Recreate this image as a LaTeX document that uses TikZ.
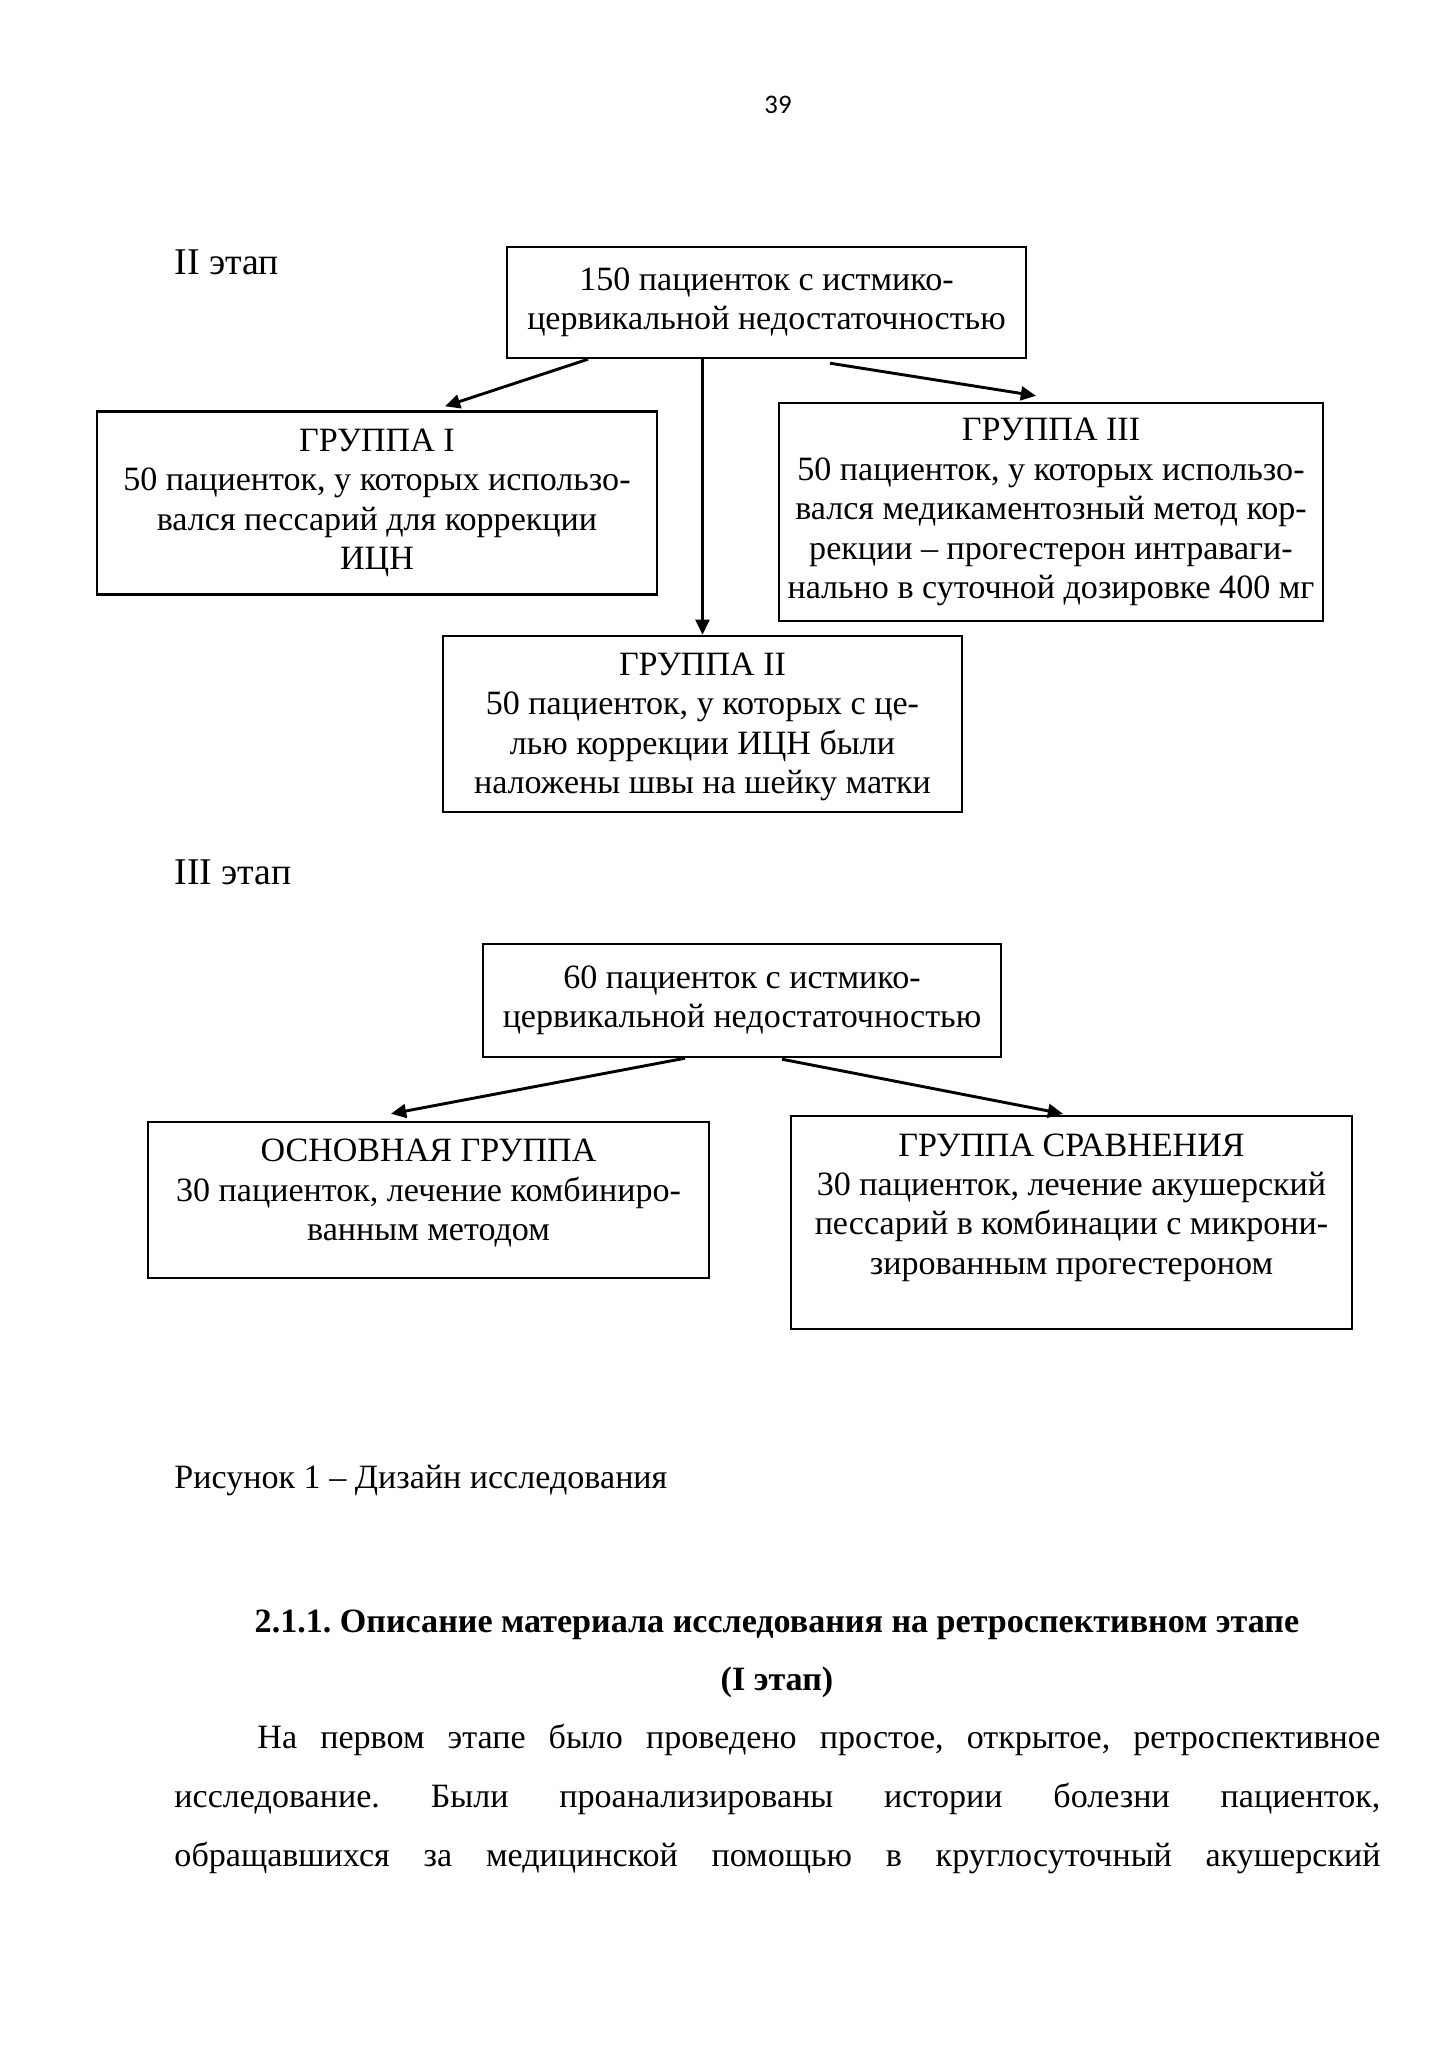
\documentclass[tikz,border=0pt]{standalone}
\usepackage{fontspec}
\setmainfont{Liberation Serif}
\newfontfamily\numfont{Carlito}
\usetikzlibrary{arrows.meta}
\newdimen\pxu
\pxu=0.14493mm
\frenchspacing

\begin{document}
\begin{tikzpicture}[x=0.14493mm, y=-0.14493mm,
		box/.style = {draw, line width=1pt, align=center, inner sep=0pt, font=\fontsize{14bp}{16.2bp}\selectfont},
		txt/.style = {inner sep=0pt, font=\fontsize{14bp}{16.2bp}\selectfont},
		stage/.style = {inner sep=0pt, anchor=base west, font=\fontsize{15.5bp}{18bp}\selectfont},
		arr/.style = {line width=1.2pt, -{Triangle[length=2.2mm, width=2mm]}}]
			\path[use as bounding box, fill=white] (0, 0) rectangle (1449, 2050);
			\node (page) at (778, 105) [inner sep=0pt, font=\numfont\fontsize{11bp}{13bp}\selectfont] {39};
			\node (st2)  at (174, 274) [stage] {II этап};
			\node (t150) at (766.5, 302.5) [box, minimum width=519\pxu, minimum height=111\pxu] {150 пациенток с истмико-\\цервикальной недостаточностью};
			\node (g1)   at (377, 503) [box, minimum width=560\pxu, minimum height=183\pxu] {ГРУППА I\\50 пациенток, у которых использо-\\вался пессарий для коррекции\\ИЦН};
			\node (g3)   at (1051, 512) [box, minimum width=544\pxu, minimum height=218\pxu] {ГРУППА III\\50 пациенток, у которых использо-\\вался медикаментозный метод кор-\\рекции – прогестерон интраваги-\\нально в суточной дозировке 400 мг};
			\node (g2)   at (702.5, 724) [box, minimum width=519\pxu, minimum height=176\pxu] {};
			\node (g2text) at ([yshift=-3\pxu]g2.center) [txt, align=center] {ГРУППА II\\50 пациенток, у которых с це-\\лью коррекции ИЦН были\\наложены швы на шейку матки};
			\draw [arr] ([xshift=-178.5\pxu]t150.south) -- ([xshift=68\pxu, yshift=4\pxu]g1.north);
			\draw [arr] (t150.south -| g2.north) -- (g2.north);
			\draw [arr] ([xshift=63.5\pxu, yshift=-4\pxu]t150.south) -- ([xshift=-15\pxu, yshift=6\pxu]g3.north);
			\node (st3)  at (174, 884) [stage] {III этап};
			\node (t60)  at (742, 1000.5) [box, minimum width=518\pxu, minimum height=113\pxu] {60 пациенток с истмико-\\цервикальной недостаточностью};
			\node (main) at (428.5, 1200) [box, minimum width=561\pxu, minimum height=156\pxu] {};
			\node (maintext) at ([yshift=7\pxu]main.center) [txt, align=center] {ОСНОВНАЯ ГРУППА\\30 пациенток, лечение комбиниро-\\ванным методом};
			\node (cmp)  at (1071.5, 1222.5) [box, minimum width=561\pxu, minimum height=213\pxu] {};
			\node (cmptext) at ([yshift=15\pxu]cmp.center) [txt, align=center] {ГРУППА СРАВНЕНИЯ\\30 пациенток, лечение акушерский\\пессарий в комбинации с микрони-\\зированным прогестероном};
			\draw [arr] ([xshift=-57\pxu]t60.south) -- ([xshift=-37.5\pxu, yshift=7\pxu]main.north);
			\draw [arr] ([xshift=40\pxu, yshift=-1\pxu]t60.south) -- ([xshift=-8.5\pxu, yshift=1\pxu]cmp.north);
			\node (cap)  at (174, 1488) [txt, anchor=base west] {Рисунок 1 – Дизайн исследования};
			\node (head) at (777, 1632) [txt, anchor=base, font=\fontsize{14bp}{16.2bp}\bfseries] {2.1.1. Описание материала исследования на ретроспективном этапе};
			\node (headsub) at (777, 1690) [txt, anchor=base, font=\fontsize{14bp}{16.2bp}\bfseries] {(I этап)};
			\node (par1) at (257, 1748) [txt, anchor=base west] {\makebox[1123\pxu][s]{На первом этапе было проведено простое, открытое, ретроспективное}};
			\node (par2) at (174, 1807) [txt, anchor=base west] {\makebox[1206\pxu][s]{исследование. Были проанализированы истории болезни пациенток,}};
			\node (par3) at (174, 1866) [txt, anchor=base west] {\makebox[1206\pxu][s]{обращавшихся за медицинской помощью в круглосуточный акушерский}};
		\end{tikzpicture}
\end{document}
